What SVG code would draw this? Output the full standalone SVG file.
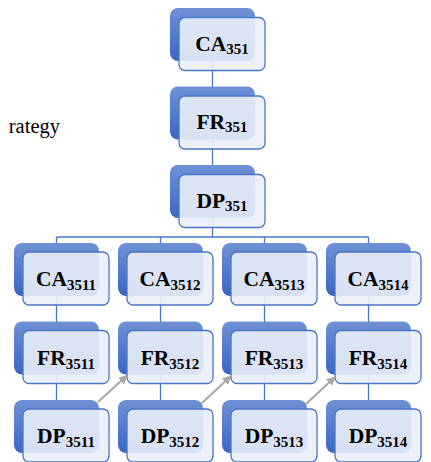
<svg xmlns="http://www.w3.org/2000/svg" width="431" height="462" viewBox="0 0 431 462">
  <defs>
    <linearGradient id="backFill" x1="0" y1="0" x2="0" y2="1">
      <stop offset="0" stop-color="#6F91D5"/>
      <stop offset="1" stop-color="#3A66C3"/>
    </linearGradient>
    <marker id="arrowHead" viewBox="0 0 10 10" refX="9" refY="5" markerWidth="4.5" markerHeight="4.5" orient="auto" markerUnits="strokeWidth">
      <path d="M0,0 L10,5 L0,10 z" fill="#A6A6A6"/>
    </marker>
  </defs>
  <style>
    .back { fill: url(#backFill); }
    .front { fill: #EAEFF8; fill-opacity: 0.9; stroke: #4A76C6; stroke-width: 1.3; }
    .conn { fill: none; stroke: #4A76C6; stroke-width: 1.3; }
    .flow { fill: none; stroke: #A6A6A6; stroke-width: 2; marker-end: url(#arrowHead); }
  </style>

  <rect width="431" height="462" fill="#FFFFFF"/>

  <text x="60" y="133" text-anchor="end" font-family="Liberation Serif, serif" font-size="20.5" fill="#000">rategy</text>

  <!-- hierarchy connectors -->
  <g id="connectors">
    <path class="conn" d="M212.5,40 V237"/>
    <path class="conn" d="M56.5,237 H368.5"/>
    <path class="conn" d="M56.5,237 V440 M160.5,237 V440 M264.5,237 V440 M368.5,237 V440"/>
  </g>

  <!-- top column -->
  <g id="CA351">
    <rect class="back" x="170" y="8" width="85" height="53" rx="8"/>
    <rect class="front" x="179" y="17.5" width="86" height="53" rx="6"/>
    <text x="222" y="50.5" font-family="Liberation Serif, serif" font-weight="bold" font-size="21.5" text-anchor="middle">CA<tspan font-size="15" dy="3">351</tspan></text>
  </g>
  <g id="FR351">
    <rect class="back" x="170" y="86.5" width="85" height="53" rx="8"/>
    <rect class="front" x="179" y="96" width="86" height="53" rx="6"/>
    <text x="222" y="129" font-family="Liberation Serif, serif" font-weight="bold" font-size="21.5" text-anchor="middle">FR<tspan font-size="15" dy="3">351</tspan></text>
  </g>
  <g id="DP351">
    <rect class="back" x="170" y="165" width="85" height="53" rx="8"/>
    <rect class="front" x="179" y="174.5" width="86" height="53" rx="6"/>
    <text x="222" y="207.5" font-family="Liberation Serif, serif" font-weight="bold" font-size="21.5" text-anchor="middle">DP<tspan font-size="15" dy="3">351</tspan></text>
  </g>

  <!-- column 3511 -->
  <g id="CA3511">
    <rect class="back" x="14" y="243" width="85" height="53" rx="8"/>
    <rect class="front" x="23" y="252" width="86" height="53" rx="6"/>
    <text x="66" y="286" font-family="Liberation Serif, serif" font-weight="bold" font-size="21.5" text-anchor="middle">CA<tspan font-size="15" dy="4">3511</tspan></text>
  </g>
  <g id="FR3511">
    <rect class="back" x="14" y="321.5" width="85" height="53" rx="8"/>
    <rect class="front" x="23" y="330.5" width="86" height="53" rx="6"/>
    <text x="66" y="364.5" font-family="Liberation Serif, serif" font-weight="bold" font-size="21.5" text-anchor="middle">FR<tspan font-size="15" dy="4">3511</tspan></text>
  </g>
  <g id="DP3511">
    <rect class="back" x="14" y="400" width="85" height="53" rx="8"/>
    <rect class="front" x="23" y="409" width="86" height="53" rx="6"/>
    <text x="66" y="443" font-family="Liberation Serif, serif" font-weight="bold" font-size="21.5" text-anchor="middle">DP<tspan font-size="15" dy="4">3511</tspan></text>
  </g>

  <!-- column 3512 -->
  <g id="CA3512">
    <rect class="back" x="118" y="243" width="85" height="53" rx="8"/>
    <rect class="front" x="127" y="252" width="86" height="53" rx="6"/>
    <text x="170" y="286" font-family="Liberation Serif, serif" font-weight="bold" font-size="21.5" text-anchor="middle">CA<tspan font-size="15" dy="4">3512</tspan></text>
  </g>
  <g id="FR3512">
    <rect class="back" x="118" y="321.5" width="85" height="53" rx="8"/>
    <rect class="front" x="127" y="330.5" width="86" height="53" rx="6"/>
    <text x="170" y="364.5" font-family="Liberation Serif, serif" font-weight="bold" font-size="21.5" text-anchor="middle">FR<tspan font-size="15" dy="4">3512</tspan></text>
  </g>
  <g id="DP3512">
    <rect class="back" x="118" y="400" width="85" height="53" rx="8"/>
    <rect class="front" x="127" y="409" width="86" height="53" rx="6"/>
    <text x="170" y="443" font-family="Liberation Serif, serif" font-weight="bold" font-size="21.5" text-anchor="middle">DP<tspan font-size="15" dy="4">3512</tspan></text>
  </g>

  <!-- column 3513 -->
  <g id="CA3513">
    <rect class="back" x="222" y="243" width="85" height="53" rx="8"/>
    <rect class="front" x="231" y="252" width="86" height="53" rx="6"/>
    <text x="274" y="286" font-family="Liberation Serif, serif" font-weight="bold" font-size="21.5" text-anchor="middle">CA<tspan font-size="15" dy="4">3513</tspan></text>
  </g>
  <g id="FR3513">
    <rect class="back" x="222" y="321.5" width="85" height="53" rx="8"/>
    <rect class="front" x="231" y="330.5" width="86" height="53" rx="6"/>
    <text x="274" y="364.5" font-family="Liberation Serif, serif" font-weight="bold" font-size="21.5" text-anchor="middle">FR<tspan font-size="15" dy="4">3513</tspan></text>
  </g>
  <g id="DP3513">
    <rect class="back" x="222" y="400" width="85" height="53" rx="8"/>
    <rect class="front" x="231" y="409" width="86" height="53" rx="6"/>
    <text x="274" y="443" font-family="Liberation Serif, serif" font-weight="bold" font-size="21.5" text-anchor="middle">DP<tspan font-size="15" dy="4">3513</tspan></text>
  </g>

  <!-- column 3514 -->
  <g id="CA3514">
    <rect class="back" x="326" y="243" width="85" height="53" rx="8"/>
    <rect class="front" x="335" y="252" width="86" height="53" rx="6"/>
    <text x="378" y="286" font-family="Liberation Serif, serif" font-weight="bold" font-size="21.5" text-anchor="middle">CA<tspan font-size="15" dy="4">3514</tspan></text>
  </g>
  <g id="FR3514">
    <rect class="back" x="326" y="321.5" width="85" height="53" rx="8"/>
    <rect class="front" x="335" y="330.5" width="86" height="53" rx="6"/>
    <text x="378" y="364.5" font-family="Liberation Serif, serif" font-weight="bold" font-size="21.5" text-anchor="middle">FR<tspan font-size="15" dy="4">3514</tspan></text>
  </g>
  <g id="DP3514">
    <rect class="back" x="326" y="400" width="85" height="53" rx="8"/>
    <rect class="front" x="335" y="409" width="86" height="53" rx="6"/>
    <text x="378" y="443" font-family="Liberation Serif, serif" font-weight="bold" font-size="21.5" text-anchor="middle">DP<tspan font-size="15" dy="4">3514</tspan></text>
  </g>

  <!-- DP to next FR arrows -->
  <g id="flow-arrows">
    <line class="flow" x1="98" y1="402" x2="127" y2="375.5"/>
    <line class="flow" x1="202" y1="403" x2="231" y2="376"/>
    <line class="flow" x1="306" y1="404" x2="335" y2="377"/>
  </g>
</svg>
